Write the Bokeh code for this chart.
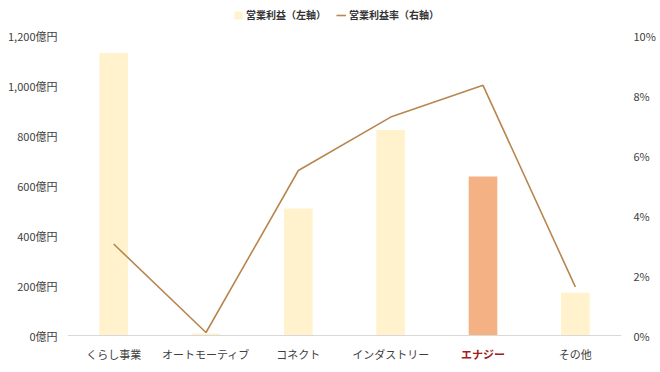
from bokeh.plotting import figure
from bokeh.models import (ColumnDataSource, FactorRange, Range1d, LinearAxis, FixedTicker,
                          Legend, LegendItem, Span)
from bokeh.core.properties import value
from bokeh.embed import file_html
from bokeh.resources import INLINE

categories = ["くらし事業", "オートモーティブ", "コネクト", "インダストリー", "エナジー", "その他"]
profit = [1130, 8, 508, 822, 636, 171]          # 億円 (left axis)
margin = [3.05, 0.1, 5.5, 7.28, 8.34, 1.62]      # % (right axis)
bar_colors = ["#FFF2CC", "#FFF2CC", "#FFF2CC", "#FFF2CC", "#F4B183", "#FFF2CC"]
highlight = "エナジー"
y_ticks = [0, 200, 400, 600, 800, 1000, 1200]
y_tick_labels = ["0億円", "200億円", "400億円", "600億円", "800億円", "1,000億円", "1,200億円"]
pct_ticks = [0, 2, 4, 6, 8, 10]
pct_tick_labels = ["0%", "2%", "4%", "6%", "8%", "10%"]

FONT = "Noto Sans CJK JP"
TXT = "#404040"
LINE = "#B8864E"

# layout (pixels): frame covers the whole figure height; the value axis spans PLOT_H px
FIG_H = 366
TOP_PAD = 35      # from figure top to value 1200 / 10%
PLOT_H = 300      # value 0 -> 1200
BOT_PAD = FIG_H - TOP_PAD - PLOT_H
Y_MAX = 1200
P_MAX = 10
ppu = PLOT_H / Y_MAX
pppu = PLOT_H / P_MAX

src = ColumnDataSource(dict(cat=categories, profit=profit, margin=margin, color=bar_colors))

p = figure(x_range=FactorRange(*categories, range_padding=0),
           y_range=Range1d(-BOT_PAD / ppu, Y_MAX + TOP_PAD / ppu),
           frame_width=554, frame_height=FIG_H, output_backend="svg", toolbar_location=None,
           min_border_left=67, min_border_right=35, min_border_top=0, min_border_bottom=0)
p.outline_line_color = None
p.grid.visible = False
p.background_fill_color = "white"
p.border_fill_color = "white"

p.extra_y_ranges = {"pct": Range1d(-BOT_PAD / pppu, P_MAX + TOP_PAD / pppu)}

bars = p.vbar(x="cat", top="profit", width=0.31, color="color", line_color=None, source=src)
p.add_layout(Span(location=0, dimension="width", line_color="#D9D9D9", line_width=1))
line = p.line(x="cat", y="margin", y_range_name="pct", line_color=LINE, line_width=1.6, source=src)

# left axis
ya = p.yaxis[0]
ya.ticker = FixedTicker(ticks=y_ticks)
ya.major_label_overrides = {t: l for t, l in zip(y_ticks, y_tick_labels)}
ya.axis_line_color = None
ya.major_tick_line_color = None
ya.minor_tick_line_color = None
ya.major_label_standoff = 4
ya.major_label_text_font = FONT
ya.major_label_text_font_size = "11px"
ya.major_label_text_color = TXT

# right axis
ra = LinearAxis(y_range_name="pct", ticker=FixedTicker(ticks=pct_ticks))
ra.major_label_overrides = {t: l for t, l in zip(pct_ticks, pct_tick_labels)}
ra.axis_line_color = None
ra.major_tick_line_color = None
ra.minor_tick_line_color = None
ra.major_label_standoff = 6
ra.major_label_text_font = FONT
ra.major_label_text_font_size = "11px"
ra.major_label_text_color = TXT
p.add_layout(ra, "right")

p.xaxis.visible = False

# category labels drawn inside the frame, below the baseline
label_y = -18 / ppu
normal = [c for c in categories if c != highlight]
p.text(x=normal, y=[label_y] * len(normal), text=normal, text_align="center",
       text_baseline="middle", text_font=value(FONT), text_font_size="11px", text_color=TXT)
p.text(x=[highlight], y=[label_y], text=[highlight], text_align="center",
       text_baseline="middle", text_font=value(FONT), text_font_size="11px",
       text_font_style="bold", text_color="#A31B1B")

legend = Legend(items=[LegendItem(label="営業利益（左軸）", renderers=[bars]),
                       LegendItem(label="営業利益率（右軸）", renderers=[line])],
                orientation="horizontal", location=(166, FIG_H - 22),
                label_text_font=FONT, label_text_font_size="10px", label_text_font_style="bold",
                label_text_color="#333333", border_line_color=None, background_fill_alpha=0,
                glyph_width=10, glyph_height=10, spacing=10, label_standoff=3,
                padding=0, margin=0, label_height=10)
p.add_layout(legend)

open("out.html", "w").write(file_html(p, INLINE))
